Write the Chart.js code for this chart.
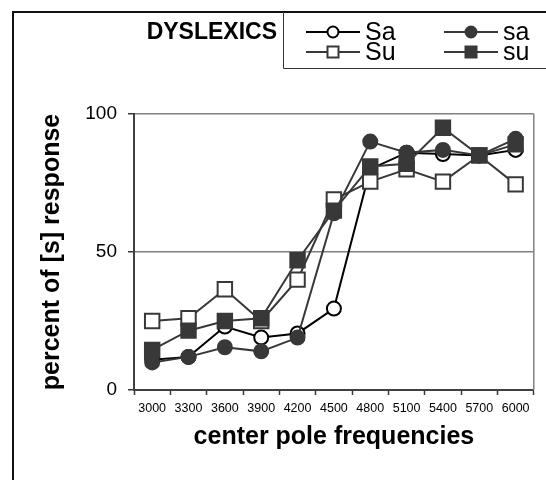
<!DOCTYPE html>
<html>
<head>
<meta charset="utf-8">
<script src="https://cdn.jsdelivr.net/npm/chart.js@4/dist/chart.umd.min.js"></script>
<style>
  html, body { margin: 0; padding: 0; background: #fff; }
  canvas { display: block; }
</style>
</head>
<body>
<canvas id="chart-dyslexics" width="546" height="480"></canvas>
<script>
// center pole frequencies
const frequencies = ['3000', '3300', '3600', '3900', '4200', '4500', '4800', '5100', '5400', '5700', '6000'];

// percent of [s] response
const seriesSa = [11, 12, 23, 19, 20.5, 29.5, 80, 86, 85.5, 85, 87];
const seriesLowerSa = [10, 12, 15.5, 14, 19, 64, 90, 86, 87, 85, 91];
const seriesSu = [25, 26, 36.5, 25, 40, 69, 75.5, 80, 75.5, 85, 74.5];
const seriesLowerSu = [14.5, 21.5, 25, 26, 47, 65, 81, 82, 95, 85, 89];

const yTicks = [0, 50, 100];
const groupTitle = 'DYSLEXICS';

const FONT = 'Arial, "Liberation Sans", sans-serif';
const dark = '#383838';

const data = {
  labels: frequencies,
  datasets: [
    {
      label: 'Sa',
      data: seriesSa,
      borderColor: '#000000',
      backgroundColor: '#ffffff',
      pointBorderColor: '#000000',
      pointBackgroundColor: '#ffffff',
      pointStyle: 'circle',
      pointRadius: 7,
      order: 3
    },
    {
      label: 'sa',
      data: seriesLowerSa,
      borderColor: dark,
      backgroundColor: dark,
      pointBorderColor: dark,
      pointBackgroundColor: dark,
      pointStyle: 'circle',
      pointRadius: 7,
      order: 1
    },
    {
      label: 'Su',
      data: seriesSu,
      borderColor: dark,
      backgroundColor: '#ffffff',
      pointBorderColor: dark,
      pointBackgroundColor: '#ffffff',
      pointStyle: 'rect',
      pointRadius: 10.2,
      order: 2
    },
    {
      label: 'su',
      data: seriesLowerSu,
      borderColor: dark,
      backgroundColor: dark,
      pointBorderColor: dark,
      pointBackgroundColor: dark,
      pointStyle: 'rect',
      pointRadius: 10.2,
      order: 0
    }
  ]
};

// outer frame, legend box and right border of the plot
const framePlugin = {
  id: 'frame',
  beforeDatasetsDraw(chart) {
    const { ctx, chartArea } = chart;
    ctx.save();
    ctx.strokeStyle = '#808080';
    ctx.lineWidth = 1.5;
    ctx.beginPath();
    ctx.moveTo(chartArea.right, chartArea.top);
    ctx.lineTo(chartArea.right, chartArea.bottom);
    ctx.stroke();
    ctx.restore();
  },
  afterDraw(chart) {
    const ctx = chart.ctx;
    ctx.save();
    ctx.strokeStyle = '#111';
    ctx.lineWidth = 2;
    ctx.beginPath();
    ctx.moveTo(13, 480);
    ctx.lineTo(13, 12);
    ctx.lineTo(546, 12);
    ctx.stroke();

    ctx.lineWidth = 1;
    ctx.strokeStyle = '#333';
    ctx.beginPath();
    ctx.moveTo(283.5, 12);
    ctx.lineTo(283.5, 68.5);
    ctx.lineTo(546, 68.5);
    ctx.stroke();

    ctx.fillStyle = '#000';
    ctx.font = 'bold 23px ' + FONT;
    ctx.textAlign = 'right';
    ctx.textBaseline = 'middle';
    ctx.fillText(groupTitle, 277, 33);

    const cols = [333, 471];
    const rows = [32, 52];
    chart.data.datasets.forEach((ds, i) => {
      const cx = cols[i % 2];
      const cy = rows[Math.floor(i / 2)];
      ctx.strokeStyle = ds.borderColor;
      ctx.lineWidth = 2;
      ctx.beginPath();
      ctx.moveTo(cx - 27, cy);
      ctx.lineTo(cx + 27, cy);
      ctx.stroke();
      ctx.fillStyle = ds.pointBackgroundColor;
      ctx.beginPath();
      if (ds.pointStyle === 'rect') {
        ctx.rect(cx - 5.5, cy - 5.5, 11, 11);
      } else {
        ctx.arc(cx, cy, 5.5, 0, Math.PI * 2);
      }
      ctx.fill();
      ctx.stroke();
      ctx.fillStyle = '#000';
      ctx.font = '25px ' + FONT;
      ctx.textAlign = 'left';
      ctx.fillText(ds.label, cx + 32, cy + 1);
    });
    ctx.restore();
  }
};

new Chart(document.getElementById('chart-dyslexics'), {
  type: 'line',
  data: data,
  plugins: [framePlugin],
  options: {
    responsive: false,
    animation: false,
    devicePixelRatio: 1,
    layout: { padding: { top: 114, right: 4, left: 0, bottom: 0 } },
    elements: {
      line: { borderWidth: 2, tension: 0 },
      point: { borderWidth: 2, hoverRadius: 7 }
    },
    plugins: {
      legend: { display: false },
      tooltip: { enabled: false },
      title: { display: false }
    },
    scales: {
      x: {
        type: 'category',
        offset: true,
        afterFit: (s) => { s.height = 90; },
        grid: {
          offset: true,
          drawOnChartArea: false,
          drawTicks: true,
          tickLength: 5,
          tickColor: dark,
          tickWidth: 1.5
        },
        border: { color: '#404040', width: 2 },
        ticks: {
          autoSkip: false,
          maxRotation: 0,
          color: '#000',
          padding: 6,
          font: { family: FONT, size: 12.5 }
        },
        title: {
          display: true,
          text: 'center pole frequencies',
          color: '#000',
          font: { family: FONT, size: 25, weight: 'bold' },
          padding: { top: 0, bottom: 28 }
        }
      },
      y: {
        min: 0,
        max: 100,
        afterFit: (s) => { s.width = 134; },
        afterBuildTicks: (s) => { s.ticks = yTicks.map(v => ({ value: v })); },
        grid: {
          color: (c) => (c.tick && c.tick.value === 0 ? 'rgba(0,0,0,0)' : '#808080'),
          lineWidth: 1.5,
          tickLength: 6,
          tickColor: dark,
          tickWidth: 1.5
        },
        border: { color: '#404040', width: 2 },
        ticks: {
          color: '#000',
          padding: 11,
          font: { family: FONT, size: 19 }
        },
        title: {
          display: true,
          text: 'percent of [s] response',
          color: '#000',
          font: { family: FONT, size: 25, weight: 'bold' },
          padding: { top: 37, bottom: 0 }
        }
      }
    }
  }
});
</script>
</body>
</html>
